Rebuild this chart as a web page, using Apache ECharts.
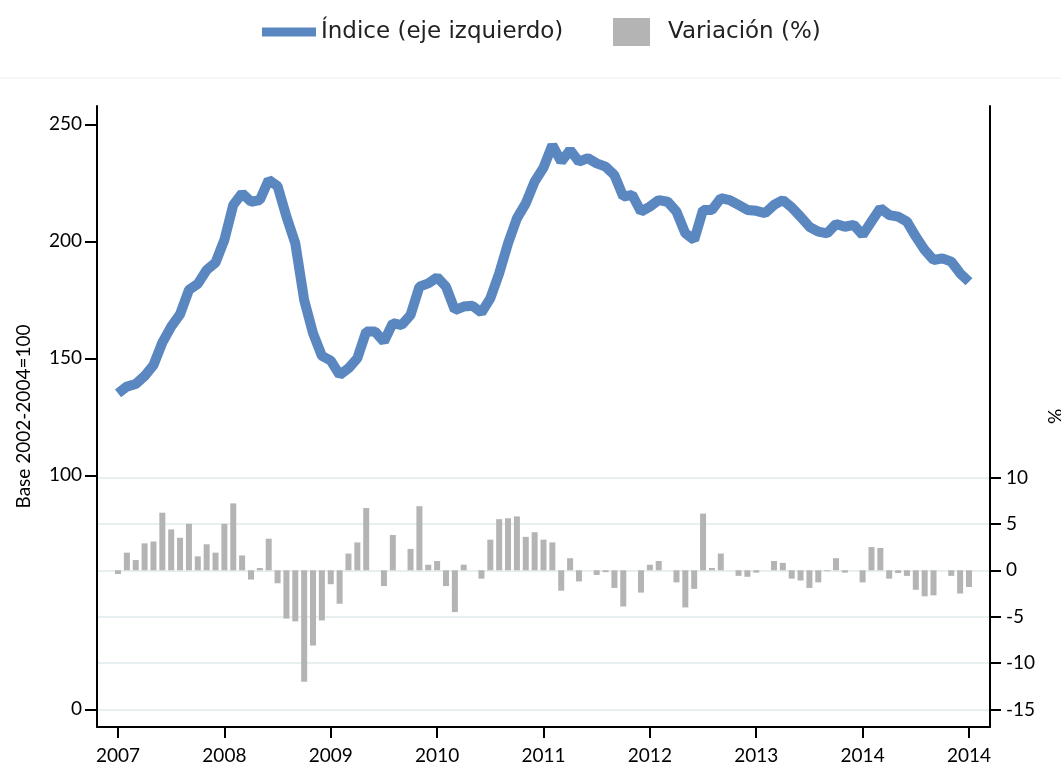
<!DOCTYPE html>
<html>
<head>
<meta charset="utf-8">
<script src="https://cdn.jsdelivr.net/npm/echarts@6/dist/echarts.min.js"></script>
<style>html,body{margin:0;padding:0;background:#fff}#c{width:1061px;height:769px}</style>
</head>
<body>
<div id="c"></div>
<script>
// Monthly data, Jan 2007 .. Jan 2015 (97 months)
const yearLabels = ['2007','2008','2009','2010','2011','2012','2013','2014','2014'];
const leftTicks = [0, 100, 150, 200, 250];
const rightTicks = [-15, -10, -5, 0, 5, 10];
const indexValues = [
  135.0,137.9,139.0,142.4,147.1,156.7,163.5,168.8,179.2,181.8,187.7,190.9,
  200.6,215.5,220.5,216.9,217.6,226.2,223.6,210.5,199.1,174.9,160.7,151.0,
  149.0,142.9,145.7,150.0,161.4,161.4,157.1,165.0,164.2,168.5,180.6,182.0,
  184.6,180.6,170.6,172.1,172.4,169.5,175.6,186.3,199.1,209.8,216.2,225.5,
  231.5,241.1,234.0,239.0,234.0,235.5,233.3,231.9,228.3,219.1,219.8,212.7,
  214.8,217.6,216.9,212.7,203.4,200.6,213.4,213.4,218.4,217.6,215.5,213.4,
  213.0,212.0,215.5,217.6,214.5,210.5,206.2,204.1,203.4,207.4,206.2,207.0,
  202.7,208.4,214.1,211.2,210.5,208.4,202.0,196.3,192.0,192.7,191.3,186.3,
  182.7
];
const variationValues = [
  -0.4,1.9,1.1,2.9,3.1,6.2,4.4,3.5,5.0,1.5,2.8,1.9,
  5.0,7.2,1.6,-1.0,0.25,3.4,-1.4,-5.2,-5.5,-12.0,-8.1,-5.4,
  -1.5,-3.6,1.8,3.0,6.7,0.0,-1.7,3.8,0.0,2.3,6.9,0.6,
  1.0,-1.7,-4.5,0.6,0.0,-0.9,3.3,5.5,5.6,5.8,3.6,4.1,
  3.3,3.0,-2.2,1.3,-1.2,0.0,-0.5,-0.2,-1.9,-3.9,0.0,-2.4,
  0.6,1.0,0.0,-1.3,-4.0,-2.0,6.1,0.25,1.8,0.0,-0.6,-0.7,
  -0.25,0.0,1.0,0.8,-0.9,-1.1,-1.9,-1.3,-0.1,1.3,-0.25,0.0,
  -1.3,2.5,2.4,-0.9,-0.3,-0.6,-2.1,-2.8,-2.7,0.0,-0.6,-2.5,
  -1.8
];
const seriesNames = ['Índice (eje izquierdo)', 'Variación (%)'];

const xTickValues = yearLabels.map((_, k) => k * 12);
const lineData = indexValues.map((v, i) => [i, v]);
const barData = variationValues.map((v, i) => [i, v]);

const axisFont = { fontFamily: 'Lato', fontSize: 19, color: '#000' };
const legendFont = { fontFamily: 'DejaVu Sans', fontSize: 23, color: '#222', lineHeight: 28 };
const chart = echarts.init(document.getElementById('c'), null, { renderer: 'canvas' });
chart.setOption({
  animation: false,
  backgroundColor: '#fff',
  graphic: [{
    type: 'line', shape: { x1: 0, y1: 78, x2: 1061, y2: 78 },
    style: { stroke: '#ececec', lineWidth: 1 }
  }],
  legend: [{
    left: 262, top: 18, padding: 0, itemWidth: 54, itemHeight: 9,
    data: [{ name: seriesNames[0], icon: 'rect' }],
    textStyle: legendFont
  }, {
    left: 613, top: 18, padding: 0, itemWidth: 37, itemHeight: 28,
    data: [{ name: seriesNames[1], icon: 'rect' }],
    textStyle: { ...legendFont, padding: [0, 0, 0, 13] }
  }],
  grid: { left: 97, right: 71, top: 106, bottom: 42, containLabel: false, outerBoundsMode: 'none' },
  xAxis: {
    type: 'value', min: -2.37, max: 98.37,
    axisLine: { show: true, onZero: false, lineStyle: { color: '#000', width: 2 } },
    axisTick: { show: true, length: 11, lineStyle: { color: '#000', width: 2 }, customValues: xTickValues },
    axisLabel: { customValues: xTickValues, margin: 19, ...axisFont,
      formatter: v => yearLabels[Math.round(v / 12)] },
    splitLine: { show: false }
  },
  yAxis: [{
    type: 'value', position: 'left', min: -7.56, max: 257.8,
    name: 'Base 2002-2004=100', nameLocation: 'middle', nameGap: 64,
    nameTextStyle: { fontFamily: 'Lato', fontSize: 19, color: '#000' },
    axisLine: { show: true, onZero: false, lineStyle: { color: '#000', width: 2 } },
    axisTick: { show: true, length: 12, lineStyle: { color: '#000', width: 2 }, customValues: leftTicks },
    axisLabel: { customValues: leftTicks, margin: 15, ...axisFont },
    splitLine: { show: false }
  }, {
    type: 'value', position: 'right', min: -16.87, max: 49.98,
    name: '%', nameLocation: 'middle', nameGap: 52,
    nameTextStyle: { fontFamily: 'Lato', fontSize: 19, color: '#000' },
    axisLine: { show: true, onZero: false, lineStyle: { color: '#000', width: 2 } },
    axisTick: { show: true, length: 11, lineStyle: { color: '#000', width: 2 }, customValues: rightTicks },
    axisLabel: { customValues: rightTicks, margin: 16, ...axisFont },
    splitLine: { show: true, lineStyle: { color: '#e8eff1', width: 2 } }
  }],
  series: [{
    name: seriesNames[1], type: 'bar', yAxisIndex: 1, data: barData,
    barWidth: 6, itemStyle: { color: '#b4b4b4' }, z: 2
  }, {
    name: seriesNames[0], type: 'line', yAxisIndex: 0, data: lineData,
    symbol: 'none', lineStyle: { color: '#5b87c1', width: 10 }, itemStyle: { color: '#5b87c1' }, z: 3
  }]
});
</script>
</body>
</html>
